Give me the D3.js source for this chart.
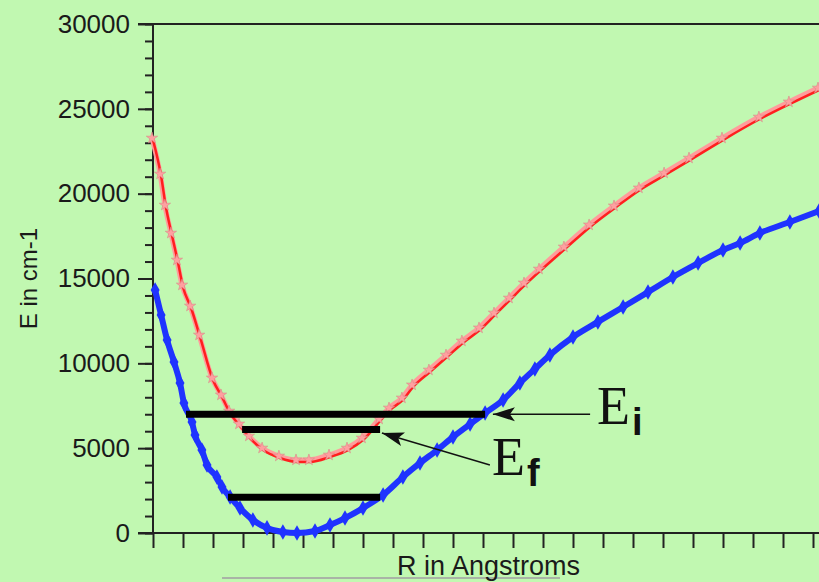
<!DOCTYPE html>
<html lang="en">

<head>
  <meta charset="utf-8">
  <title>Potential curves</title>
  <script type="text/javascript" src="https://d3js.org/d3.v7.min.js"></script>
  <style>
    body {
      margin: 0;
      background: #c1f8b1;
    }

    /* axes */
    .axis line {
      stroke: #222222;
      stroke-width: 2;
    }

    .axis text {
      font-family: "Liberation Sans", Arial, sans-serif;
      font-size: 26px;
      fill: #1a1a1a;
    }

    .frame {
      stroke: #222222;
      stroke-width: 2;
    }

    /* curves */
    path.upper-halo {
      fill: none;
      stroke: #ff9c9c;
      stroke-width: 5;
    }

    path.upper {
      fill: none;
      stroke: #ff1f1f;
      stroke-width: 2.5;
    }

    path.lower {
      fill: none;
      stroke: #1f33ff;
      stroke-width: 6;
    }

    /* levels and arrows */
    line.level {
      stroke: #000000;
      stroke-width: 7;
    }

    line.arrow {
      stroke: #111111;
      stroke-width: 1.5;
    }

    .label-e {
      font-family: "Liberation Serif", "Times New Roman", serif;
      font-size: 54px;
      fill: #111111;
    }

    .label-sub {
      font-family: "Liberation Sans", Arial, sans-serif;
      font-weight: bold;
      font-size: 38px;
      fill: #111111;
    }

    .axis-title {
      font-family: "Liberation Sans", Arial, sans-serif;
      fill: #1a1a1a;
    }
  </style>
</head>

<body>
  <div id="container"></div>
  <script type="text/javascript">
    //----------------DATA----------------//
    // upper state (red)
    var upperR = [1.600, 1.627, 1.643, 1.663, 1.683, 1.700, 1.727, 1.757, 1.800, 1.830,
      1.857, 1.890, 1.923, 1.967, 2.023, 2.080, 2.123, 2.190, 2.250, 2.300,
      2.357, 2.390, 2.433, 2.467, 2.523, 2.580, 2.633, 2.690, 2.740, 2.790,
      2.840, 2.890, 2.973, 3.057, 3.140, 3.223, 3.307, 3.390, 3.500, 3.623,
      3.723, 3.820];
    var upperE = [23160, 21040, 19210, 17560, 15970, 14500, 13260, 11550, 9020, 8020,
      7070, 6310, 5600, 4890, 4420, 4190, 4190, 4480, 4890, 5480,
      6600, 7250, 7840, 8610, 9490, 10370, 11200, 11970, 12850, 13730,
      14620, 15440, 16740, 18040, 19160, 20220, 21100, 21980, 23160, 24400,
      25290, 26110];

    // lower state (blue)
    var lowerR = [1.607, 1.627, 1.647, 1.670, 1.690, 1.703, 1.730, 1.740, 1.763, 1.780,
      1.813, 1.830, 1.857, 1.890, 1.933, 1.980, 2.033, 2.080, 2.140, 2.190,
      2.240, 2.300, 2.367, 2.433, 2.490, 2.547, 2.600, 2.657, 2.707, 2.767,
      2.823, 2.873, 2.923, 3.000, 3.083, 3.167, 3.250, 3.333, 3.417, 3.500,
      3.557, 3.623, 3.723, 3.820];
    var lowerE = [14320, 12850, 11380, 10080, 8840, 7660, 6540, 5780, 4890, 4010,
      3300, 2710, 2120, 1470, 770, 300, 60, 0, 120, 470,
      880, 1470, 2240, 3300, 4130, 4890, 5660, 6420, 7070, 7840,
      8840, 9670, 10490, 11550, 12440, 13320, 14200, 15090, 15910, 16680,
      17090, 17680, 18330, 18980];

    // vibrational levels: energy, start R, end R
    var levelE = [7000, 6100, 2100];
    var levelR0 = [1.710, 1.897, 1.850];
    var levelR1 = [2.707, 2.357, 2.357];

    // arrows: tail (R, E) -> tip (R, E)
    var arrowTail = [[3.057, 7000], [2.723, 4010]];
    var arrowTip = [[2.733, 7000], [2.363, 5890]];
    var arrowSub = ["i", "f"];

    // ticks
    var yMajor = [0, 5000, 10000, 15000, 20000, 25000, 30000];
    var yMinor = d3.range(0, 30001, 1000);
    var xTicks = [1.6, 1.7, 1.8, 1.9, 2.0, 2.1, 2.2, 2.3, 2.4, 2.5, 2.6, 2.7,
      2.8, 2.9, 3.0, 3.1, 3.2, 3.3, 3.4, 3.5, 3.6, 3.7, 3.8];

    //----------------CANVAS----------------//
    var w = 819;
    var h = 582;
    var svg = d3.select("div#container").append("svg")
      .attr("width", w)
      .attr("height", h)
      .style("display", "block");

    svg.append("rect")
      .attr("width", w)
      .attr("height", h)
      .attr("fill", "#c1f8b1");

    var xScale = d3.scaleLinear()
      .domain([1.6, 3.9])
      .range([153, 843]);

    var yScale = d3.scaleLinear()
      .domain([0, 30000])
      .range([533, 24]);

    //AXES
    var yAxisMinor = d3.axisLeft(yScale)
      .tickValues(yMinor)
      .tickSize(8)
      .tickSizeOuter(0)
      .tickFormat("");

    var yAxisMajor = d3.axisLeft(yScale)
      .tickValues(yMajor)
      .tickSize(15)
      .tickSizeOuter(0)
      .tickPadding(8)
      .tickFormat(d3.format("d"));

    var xAxis = d3.axisBottom(xScale)
      .tickValues(xTicks)
      .tickSize(15)
      .tickSizeOuter(0)
      .tickFormat("");

    var gyMin = svg.append("g")
      .attr("class", "axis")
      .attr("transform", "translate(" + xScale(1.6) + ",0)")
      .call(yAxisMinor);
    gyMin.select(".domain").remove();

    var gyMaj = svg.append("g")
      .attr("class", "axis")
      .attr("transform", "translate(" + xScale(1.6) + ",0)")
      .call(yAxisMajor);
    gyMaj.select(".domain").remove();

    var gx = svg.append("g")
      .attr("class", "axis")
      .attr("transform", "translate(0," + yScale(0) + ")")
      .call(xAxis);
    gx.select(".domain").remove();

    // frame lines
    svg.append("line")
      .attr("class", "frame")
      .attr("x1", xScale(1.6)).attr("x2", xScale(1.6))
      .attr("y1", yScale(30000)).attr("y2", yScale(0));
    svg.append("line")
      .attr("class", "frame")
      .attr("x1", xScale(1.6) - 15).attr("x2", w)
      .attr("y1", yScale(0)).attr("y2", yScale(0));
    svg.append("line")
      .attr("class", "frame")
      .attr("x1", xScale(1.6) - 15).attr("x2", w)
      .attr("y1", yScale(30000)).attr("y2", yScale(30000));

    // axis titles
    svg.append("line")
      .attr("x1", 222).attr("x2", 560)
      .attr("y1", 578).attr("y2", 578)
      .attr("stroke", "#a9b4a6")
      .attr("stroke-width", 2);

    svg.append("text")
      .attr("class", "axis-title")
      .attr("x", 397)
      .attr("y", 575)
      .style("font-size", "27px")
      .text("R in Angstroms");

    svg.append("text")
      .attr("class", "axis-title")
      .attr("transform", "translate(37," + yScale(15000) + ") rotate(-90)")
      .attr("text-anchor", "middle")
      .style("font-size", "24px")
      .text("E in cm-1");

    //----------------CURVES----------------//
    var upper = upperR.map(function (r, i) { return [r, upperE[i]]; });
    var lower = lowerR.map(function (r, i) { return [r, lowerE[i]]; });

    var lineGenerator = d3.line()
      .x(function (d) { return xScale(d[0]); })
      .y(function (d) { return yScale(d[1]); })
      .curve(d3.curveMonotoneX);

    // lower curve
    svg.append("path")
      .attr("class", "lower")
      .attr("d", lineGenerator(lower));

    svg.append("g").selectAll("path")
      .data(lower)
      .enter().append("path")
      .attr("d", d3.symbol().type(d3.symbolDiamond).size(70))
      .attr("fill", "#1f33ff")
      .attr("transform", function (d) {
        return "translate(" + xScale(d[0]) + "," + yScale(d[1]) + ")";
      });

    // upper curve
    svg.append("path")
      .attr("class", "upper-halo")
      .attr("transform", "translate(-1,-2)")
      .attr("d", lineGenerator(upper));

    svg.append("path")
      .attr("class", "upper")
      .attr("d", lineGenerator(upper));

    svg.append("g").selectAll("path")
      .data(upper)
      .enter().append("path")
      .attr("d", d3.symbol().type(d3.symbolStar).size(40))
      .attr("fill", "#ffa0a0")
      .attr("stroke", "#d98a8a")
      .attr("stroke-width", 0.6)
      .attr("transform", function (d) {
        return "translate(" + (xScale(d[0]) - 1) + "," + (yScale(d[1]) - 2) + ")";
      });

    //----------------LEVELS----------------//
    svg.append("g").selectAll("line")
      .data(levelE)
      .enter().append("line")
      .attr("class", "level")
      .attr("x1", function (d, i) { return xScale(levelR0[i]); })
      .attr("x2", function (d, i) { return xScale(levelR1[i]); })
      .attr("y1", function (d) { return yScale(d); })
      .attr("y2", function (d) { return yScale(d); });

    //----------------ARROWS----------------//
    svg.append("defs").append("marker")
      .attr("id", "head")
      .attr("markerUnits", "userSpaceOnUse")
      .attr("markerWidth", 30)
      .attr("markerHeight", 20)
      .attr("viewBox", "-24 -10 30 20")
      .attr("refX", 0)
      .attr("refY", 0)
      .attr("orient", "auto")
      .append("path")
      .attr("d", "M0,0 L-22,-7 L-17,0 L-22,7 Z")
      .attr("fill", "#111111");

    svg.append("g").selectAll("line")
      .data(arrowTail)
      .enter().append("line")
      .attr("class", "arrow")
      .attr("x1", function (d) { return xScale(d[0]); })
      .attr("y1", function (d) { return yScale(d[1]); })
      .attr("x2", function (d, i) { return xScale(arrowTip[i][0]); })
      .attr("y2", function (d, i) { return yScale(arrowTip[i][1]); })
      .attr("marker-end", "url(#head)");

    // labels next to arrow tails
    var labels = svg.append("g").selectAll("text")
      .data(arrowTail)
      .enter().append("text")
      .attr("x", function (d, i) { return xScale(d[0]) + (i === 0 ? 7 : 2); })
      .attr("y", function (d) { return yScale(d[1]) + 10; });

    labels.append("tspan")
      .attr("class", "label-e")
      .text("E");
    labels.append("tspan")
      .attr("class", "label-sub")
      .attr("dx", 2)
      .attr("dy", 11)
      .text(function (d, i) { return arrowSub[i]; });
  </script>
</body>

</html>
